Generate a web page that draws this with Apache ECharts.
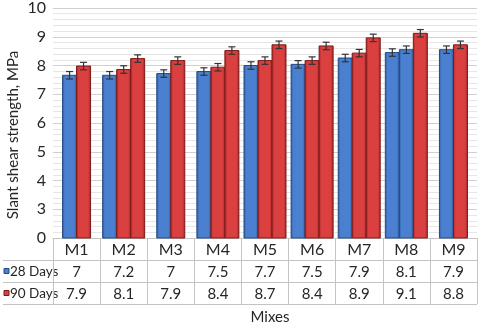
<!DOCTYPE html>
<html>
<head>
<meta charset="utf-8">
<script src="https://cdn.jsdelivr.net/npm/echarts@6/dist/echarts.min.js"></script>
<style>
  html, body { margin: 0; padding: 0; background: #fff; }
  #chart { width: 480px; height: 325px; }
</style>
</head>
<body>
<div id="chart"></div>
<script>
const mixes = ['M1', 'M2', 'M3', 'M4', 'M5', 'M6', 'M7', 'M8', 'M9'];
// values printed in the table
const days28 = [7, 7.2, 7, 7.5, 7.7, 7.5, 7.9, 8.1, 7.9];
const days90 = [7.9, 8.1, 7.9, 8.4, 8.7, 8.4, 8.9, 9.1, 8.8];
// bar heights as they are drawn in the figure
const barFirst = [7.66, 7.66, 7.72, 7.79, 8.0, 8.04, 8.26, 8.45, 8.55];
const barMiddle = [null, 7.86, null, 7.94, 8.17, 8.17, 8.43, 8.55, null];
const middleIsBlue = [false, false, false, false, false, false, false, true, false];
const barLast = [7.98, 8.24, 8.17, 8.52, 8.72, 8.68, 8.96, 9.12, 8.72];
const errMPa = 0.13;
// broken axis: bottom tick sits where 2 would be and reads 0
const yTickValues = [2, 3, 4, 5, 6, 7, 8, 9, 10];
const yTickLabels = ['0', '3', '4', '5', '6', '7', '8', '9', '10'];

const chart = echarts.init(document.getElementById('chart'));
const font = 'Lato, "Open Sans", sans-serif';
const ink = '#262626';

function bevel(edge, mid) {
  return new echarts.graphic.LinearGradient(0, 0, 1, 0, [
    { offset: 0, color: edge },
    { offset: 0.18, color: mid },
    { offset: 0.8, color: mid },
    { offset: 1, color: edge }
  ]);
}
const fills = {
  blue: bevel('#2c5a9c', '#4a80cf'),
  red: bevel('#a32424', '#d9403f')
};
const strokes = { blue: '#234a82', red: '#7d1a1a' };

function renderGroup(params, api) {
  const i = api.value(0);
  const bars = [{ v: barFirst[i], c: 'blue' }];
  if (barMiddle[i] != null) bars.push({ v: barMiddle[i], c: middleIsBlue[i] ? 'blue' : 'red' });
  bars.push({ v: barLast[i], c: 'red' });

  const base = api.coord([i, yTickValues[0]]);
  const bw = 14;
  const x0 = base[0] - bars.length * bw / 2;
  const children = [];
  bars.forEach((b, k) => {
    const top = api.coord([i, b.v])[1];
    children.push({
      type: 'rect',
      shape: { x: x0 + k * bw, y: top, width: bw, height: base[1] - top },
      style: { fill: fills[b.c], stroke: strokes[b.c], lineWidth: 1 }
    });
  });
  bars.forEach((b, k) => {
    const cx = x0 + k * bw + bw / 2;
    const hi = api.coord([i, b.v + errMPa])[1];
    const lo = api.coord([i, b.v - errMPa])[1];
    const st = { stroke: '#333', lineWidth: 1.2 };
    children.push({ type: 'line', shape: { x1: cx, y1: hi, x2: cx, y2: lo }, style: st });
    children.push({ type: 'line', shape: { x1: cx - 3.5, y1: hi, x2: cx + 3.5, y2: hi }, style: st });
    children.push({ type: 'line', shape: { x1: cx - 3.5, y1: lo, x2: cx + 3.5, y2: lo }, style: st });
  });
  return { type: 'group', children };
}

const lineColor = '#c4c4c4';
const option = {
  animation: false,
  textStyle: { fontFamily: font },
  grid: { left: 53, right: 3, top: 8, bottom: 87, containLabel: false },
  xAxis: {
    type: 'category',
    data: mixes,
    axisLine: { show: true, lineStyle: { color: lineColor, width: 1 } },
    axisTick: { show: true, interval: 0, alignWithLabel: false, length: 66, lineStyle: { color: lineColor } },
    axisLabel: {
      interval: 0,
      margin: 1,
      formatter: (v, idx) => '{m|' + v + '}\n{a|' + days28[idx] + '}\n{a|' + days90[idx] + '}',
      rich: {
        m: { fontSize: 16, lineHeight: 22, color: ink, fontFamily: font },
        a: { fontSize: 15, lineHeight: 22, color: ink, fontFamily: font }
      }
    },
    splitLine: { show: false }
  },
  yAxis: {
    type: 'value',
    min: 2,
    max: 10,
    interval: 1,
    axisLine: { show: false },
    axisTick: { show: false },
    axisLabel: {
      margin: 7,
      fontSize: 16,
      color: ink,
      fontFamily: font,
      formatter: v => yTickLabels[yTickValues.indexOf(v)]
    },
    splitLine: { show: true, lineStyle: { color: '#d0d0d0', width: 1 } },
    minorTick: { show: false, splitNumber: 5 },
    minorSplitLine: { show: true, lineStyle: { color: '#e6e6e6', width: 1 } }
  },
  series: [{
    type: 'custom',
    renderItem: renderGroup,
    encode: { x: 0, y: 1 },
    data: mixes.map((m, i) => [i, barLast[i]]),
    z: 3
  }],
  graphic: [
    { type: 'line', shape: { x1: 3, y1: 260.5, x2: 477, y2: 260.5 }, style: { stroke: lineColor } },
    { type: 'line', shape: { x1: 3, y1: 282.5, x2: 477, y2: 282.5 }, style: { stroke: lineColor } },
    { type: 'line', shape: { x1: 3, y1: 304.5, x2: 477, y2: 304.5 }, style: { stroke: lineColor } },
    { type: 'rect', shape: { x: 4, y: 268.5, width: 5, height: 5 }, style: { fill: '#4a80cf', stroke: '#234a82', lineWidth: 1 } },
    { type: 'rect', shape: { x: 4, y: 290.5, width: 5, height: 5 }, style: { fill: '#d9403f', stroke: '#7d1a1a', lineWidth: 1 } },
    { type: 'text', x: 10, y: 272, style: { text: '28 Days', fontSize: 13.5, fontFamily: font, fill: ink, verticalAlign: 'middle' } },
    { type: 'text', x: 10, y: 294, style: { text: '90 Days', fontSize: 13.5, fontFamily: font, fill: ink, verticalAlign: 'middle' } },
    { type: 'text', x: 270, y: 317, style: { text: 'Mixes', fontSize: 15, fontFamily: font, fill: ink, align: 'center', verticalAlign: 'middle' } },
    { type: 'text', x: 13, y: 135, rotation: Math.PI / 2, style: { text: 'Slant shear strength, MPa', fontSize: 15, fontFamily: font, fill: ink, align: 'center', verticalAlign: 'middle' } }
  ]
};

chart.setOption(option);
</script>
</body>
</html>
